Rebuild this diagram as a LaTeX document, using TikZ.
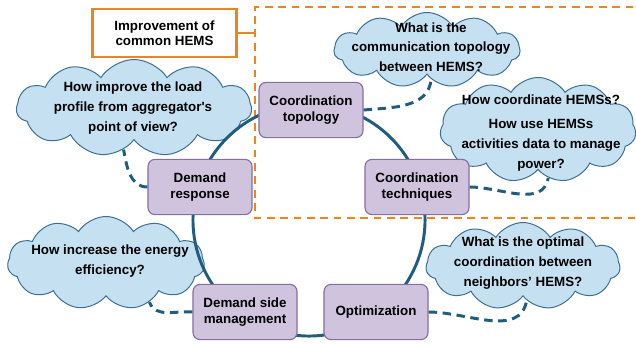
\documentclass[tikz,border=0pt]{standalone}
\usepackage{fontspec}
\setmainfont{Liberation Sans}
\usetikzlibrary{shapes.symbols,positioning}
\definecolor{ringblue}{HTML}{1F5C7E}
\definecolor{boxfill}{HTML}{D0C3DD}
\definecolor{boxline}{HTML}{8470A0}
\definecolor{cloudfill}{HTML}{C4E0F1}
\definecolor{cloudline}{HTML}{3C6F93}
\definecolor{hemsorange}{HTML}{EE8420}
\tikzset{
  ring/.style={draw=ringblue, line width=2.1pt},
  link/.style={draw=ringblue, line width=2.1pt, dash pattern=on 6pt off 4pt},
  topic/.style={draw=boxline, fill=boxfill, line width=0.8pt, rounded corners=5pt,
    minimum width=2.6cm, minimum height=1.38cm, align=center,
    font=\fontsize{9.5}{11}\selectfont\bfseries},
  bubble/.style={cloud, cloud puffs=11, cloud puff arc=115, cloud ignores aspect,
    draw=cloudline, fill=cloudfill, line width=0.7pt, inner sep=0pt},
  qtext/.style={align=center, font=\fontsize{9.5}{14}\selectfont\bfseries},
  frame/.style={draw=hemsorange, line width=2.1pt},
  zone/.style={draw=hemsorange, line width=1.8pt, dash pattern=on 5.5pt off 4pt},
}
\begin{document}
\begin{tikzpicture}[x=0.025cm, y=-0.025cm]
\useasboundingbox (0,0) rectangle (636,343);

% dashed area around the coordination part
\draw[zone] (660,7) -- (255,7) -- (255,218) -- (660,218);
\coordinate (zl) at (255,33);
\node[frame, minimum width=3.62cm, minimum height=1.2cm, align=center,
  font=\fontsize{9.5}{11}\selectfont\bfseries] (imp) at (164.5,33) {Improvement of\\common HEMS};
\draw[frame] (imp.east) -- (zl);

% question clouds
\node[bubble, minimum width=5.875cm, minimum height=2.425cm] (c1) at (134,108) {};
\node[bubble, minimum width=4.65cm, minimum height=1.875cm] (c2) at (427,50) {};
\node[bubble, minimum width=4.9cm, minimum height=2.625cm] (c3) at (538,130) {};
\node[bubble, minimum width=4.925cm, minimum height=2.325cm] (c4) at (106,263) {};
\node[bubble, minimum width=4.85cm, minimum height=2.175cm] (c5) at (523,266) {};

\node[qtext] (q1) at (133,108) {How improve the load\\profile from aggregator\textquotesingle s\\point of view?};
\node[qtext] (q2) at (431,47) {What is the\\communication topology\\between HEMS?};
\node[qtext] (q3) at (541,133) {How coordinate HEMSs?\\[3pt]How use HEMSs\\activities data to manage\\power?};
\node[qtext] (q4) at (110,261) {How increase the energy\\efficiency?};
\node[qtext] (q5) at (523,263) {What is the optimal\\coordination between\\neighbors’ HEMS?};

% the cycle
\draw[ring] (309,220) circle[radius=2.9cm];

\node[topic] (ctop) at (311,110) {Coordination\\topology};
\node[topic] (ctech) at (417,187) {Coordination\\techniques};
\node[topic] (opt) at (376,312) {Optimization};
\node[topic] (dsm) at (245,312) {Demand side\\management};
\node[topic] (dresp) at (200,187) {Demand\\response};

% links to the questions
\draw[link] (ctop.east) to[out=5, in=-95] (c2.-82);
\draw[link] (ctech.east) to[out=0, in=-100] (c3.-78);
\draw[link] (opt.east) to[out=0, in=-100] (c5.-84);
\draw[link] (dresp.west) to[out=180, in=-80] (c1.-104);
\draw[link] (dsm.west) to[out=175, in=-70] (c4.-42);
\end{tikzpicture}
\end{document}
